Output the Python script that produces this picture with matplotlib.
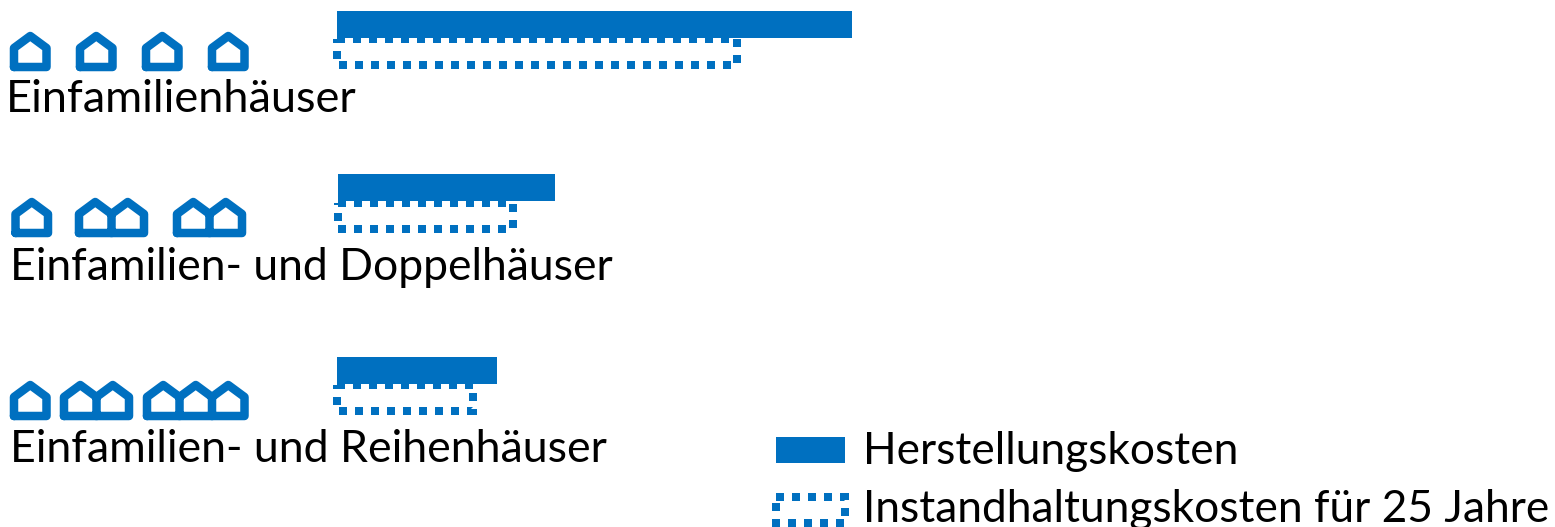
import matplotlib
matplotlib.use("Agg")
import matplotlib.pyplot as plt
from matplotlib.patches import PathPatch, Rectangle
from matplotlib.path import Path

# chart values, no scale in the source so lengths are in picture units
categories = ["Einfamilienhäuser", "Einfamilien- und Doppelhäuser", "Einfamilien- und Reihenhäuser"]
herstellung = [515, 217, 160]
instandhaltung = [400, 175, 136]
house_groups = [[1, 1, 1, 1], [1, 2, 2], [1, 2, 3]]
legend_labels = ["Herstellungskosten", "Instandhaltungskosten für 25 Jahre"]

BLUE = "#0070C0"
PX = 72 / 100  # one pixel in points


def draw_houses(ax, left, bottom, n, lw=8.5):
    # n joined houses, outline drawn as one thick line
    step = 32.5
    top = bottom - 31
    eave = bottom - 19
    verts = [(left, bottom), (left, eave)]
    for i in range(n):
        verts.append((left + step * (i + 0.5), top))
        verts.append((left + step * (i + 1), eave))
    verts.append((left + step * n, bottom))
    verts.append((left, bottom))
    codes = [Path.MOVETO] + [Path.LINETO] * (len(verts) - 1)
    for i in range(1, n):
        verts += [(left + step * i, eave), (left + step * i, bottom)]
        codes += [Path.MOVETO, Path.LINETO]
    ax.add_patch(PathPatch(Path(verts, codes), facecolor="none", edgecolor=BLUE,
                           linewidth=lw * PX, joinstyle="round", capstyle="round"))


fig = plt.figure(figsize=(15.55, 5.27), dpi=100)
ax = fig.add_axes([0, 0, 1, 1])
ax.set_xlim(0, 1555)
ax.set_ylim(527, 0)
ax.axis("off")

bar_left = [337, 338, 337]
solid_y = [24, 187.5, 370.5]
dotted_y = [52, 215.6, 398]
dotted_h = [26, 26, 26]
text_x = [6, 10, 10]
text_y = [112, 279.5, 462.5]
text_size = [32.5, 32.0, 32.1]
house_bottom = [67, 233, 416]
house_left = [[14, 80, 146, 212], [15.5, 79, 177], [14, 64, 147]]

for i in range(3):
    ax.barh(dotted_y[i], instandhaltung[i], height=dotted_h[i], left=bar_left[i], facecolor="none",
            edgecolor=BLUE, linewidth=8 * PX, linestyle=(0, (1, 1)))
    ax.barh(solid_y[i], herstellung[i], height=27, left=bar_left[i], color=BLUE)
    ax.text(text_x[i], text_y[i], categories[i], fontsize=text_size[i], family="Lato",
            color="black", va="baseline")
    for x, n in zip(house_left[i], house_groups[i]):
        draw_houses(ax, x, house_bottom[i], n)

# legend
ax.add_patch(Rectangle((776, 437), 69, 26, facecolor=BLUE, edgecolor="none"))
ax.add_patch(Rectangle((776, 497), 69, 26, facecolor="none", edgecolor=BLUE,
                       linewidth=8 * PX, linestyle=(0, (1, 1))))
ax.text(863, 464.5, legend_labels[0], fontsize=31.9, family="Lato", color="black", va="baseline")
ax.text(863, 522, legend_labels[1], fontsize=31.9, family="Lato", color="black", va="baseline")

fig.savefig("out.png", dpi=100)
